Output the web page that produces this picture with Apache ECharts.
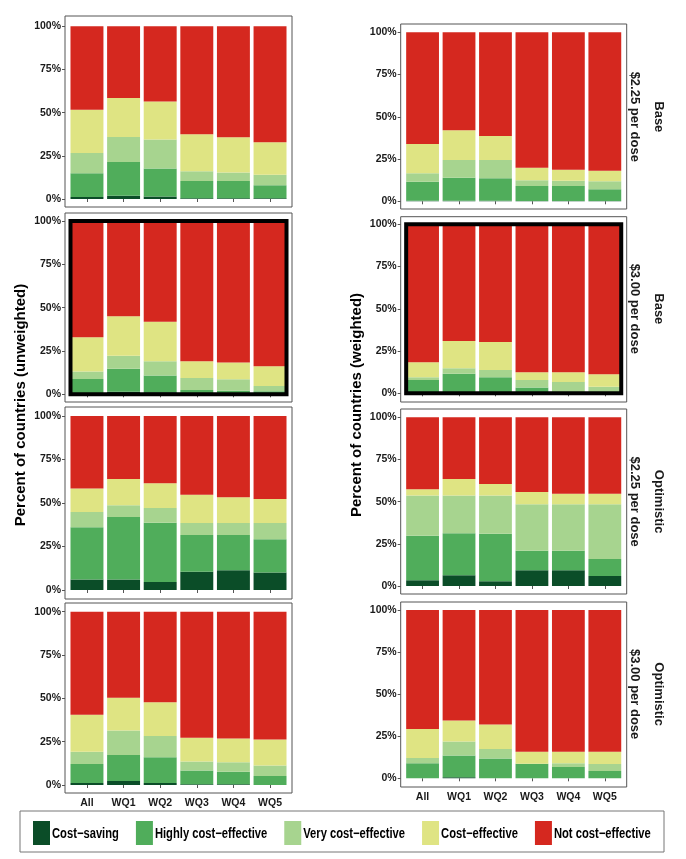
<!DOCTYPE html>
<html>
<head>
<meta charset="utf-8">
<script src="https://cdn.jsdelivr.net/npm/echarts@6/dist/echarts.min.js"></script>
<style>
  html, body { margin: 0; padding: 0; background: #fff; }
  #main { width: 686px; height: 859px; }
</style>
</head>
<body>
<div id="main"></div>
<script>
// categories and stacked segments
var categories = ['All', 'WQ1', 'WQ2', 'WQ3', 'WQ4', 'WQ5'];
var segments = ['Cost\u2212saving', 'Highly cost\u2212effective', 'Very cost\u2212effective', 'Cost\u2212effective', 'Not cost\u2212effective'];
var segColors = ['#0b4d28', '#50ad5b', '#a7d48f', '#dfe483', '#d5281f'];

// one row per segment (cost-saving .. not cost-effective), one value per category, in percent
var base225Unweighted = [
  [1.2, 1.9, 1.4, 0.4, 0.4, 0.4],
  [13.7, 19.5, 16.2, 10.0, 10.0, 7.5],
  [11.7, 14.5, 16.8, 5.6, 5.0, 6.2],
  [25.1, 22.6, 22.0, 21.5, 20.3, 18.7],
  [48.3, 41.5, 43.6, 62.5, 64.3, 67.2]
];
var base225Weighted = [
  [0.3, 0.3, 0.3, 0.2, 0.2, 0.2],
  [11.3, 13.7, 13.3, 8.9, 8.9, 6.9],
  [5.0, 10.5, 10.9, 3.3, 3.1, 4.7],
  [17.3, 17.5, 14.2, 7.5, 6.5, 6.3],
  [66.1, 58.0, 61.3, 80.1, 81.3, 81.9]
];
var base300Unweighted = [
  [0.5, 1.5, 1.2, 0.3, 0.3, 0.3],
  [8.3, 13.3, 9.6, 2.2, 1.8, 1.4],
  [4.3, 7.5, 8.2, 6.9, 6.6, 3.1],
  [19.8, 22.7, 22.9, 9.6, 9.6, 11.4],
  [67.1, 55.0, 58.1, 81.0, 81.7, 83.8]
];
var base300Weighted = [
  [0, 0, 0, 0, 0, 0],
  [7.9, 11.6, 9.5, 3.4, 0, 0],
  [1.6, 3.2, 4.3, 4.5, 6.7, 3.9],
  [8.8, 16.2, 16.6, 4.5, 5.7, 7.3],
  [81.7, 69.0, 69.6, 87.6, 87.6, 88.8]
];
var opt225Unweighted = [
  [6.1, 6.1, 4.6, 10.5, 11.3, 10.0],
  [29.9, 35.9, 34.1, 21.1, 20.3, 19.1],
  [8.8, 6.7, 8.4, 6.9, 6.9, 9.4],
  [13.6, 15.1, 14.2, 16.3, 14.8, 13.8],
  [41.6, 36.2, 38.7, 45.2, 46.7, 47.7]
];
var opt225Weighted = [
  [3.4, 6.3, 2.8, 9.3, 9.3, 5.9],
  [26.4, 24.9, 28.2, 11.6, 11.6, 10.1],
  [23.8, 22.4, 22.6, 27.5, 27.5, 32.4],
  [3.7, 9.8, 6.9, 7.3, 6.3, 6.3],
  [42.7, 36.6, 39.5, 44.3, 45.3, 45.3]
];
var opt300Unweighted = [
  [1.2, 2.3, 1.2, 0.4, 0.4, 0],
  [10.9, 15.0, 14.8, 7.9, 7.3, 5.2],
  [7.1, 14.2, 12.3, 5.2, 5.4, 6.1],
  [21.4, 18.9, 19.4, 13.8, 13.8, 15.0],
  [59.4, 49.6, 52.3, 72.7, 73.1, 73.7]
];
var opt300Weighted = [
  [0, 0.6, 0, 0, 0, 0],
  [8.9, 12.9, 11.7, 8.7, 6.7, 4.4],
  [3.2, 8.3, 5.7, 0, 2.2, 4.1],
  [17.2, 12.5, 14.5, 7.1, 6.9, 7.3],
  [70.7, 65.7, 68.1, 84.2, 84.2, 84.2]
];

var scenarios = ['Base', 'Base', 'Optimistic', 'Optimistic'];
var prices = ['$2.25 per dose', '$3.00 per dose', '$2.25 per dose', '$3.00 per dose'];

// panel layout: [column, row, data]
var panels = [
  [0, 0, base225Unweighted], [1, 0, base225Weighted],
  [0, 1, base300Unweighted], [1, 1, base300Weighted],
  [0, 2, opt225Unweighted],  [1, 2, opt225Weighted],
  [0, 3, opt300Unweighted],  [1, 3, opt300Weighted]
];

// pixel boxes of each ggplot panel: [panelTop, panelBottom, y100, y0]
var colX = [[65, 292], [400.7, 626.7]];
var rowY = [
  [[16, 207, 26.3, 199], [213, 402, 221, 394.3], [407, 599, 416, 590], [603, 793, 611.7, 785]],
  [[24, 209, 32.3, 201.3], [216.7, 402, 224.3, 393.3], [409, 594, 417.3, 586], [602, 787, 610, 778.3]]
];

var FONT = 'Liberation Sans, Arial, sans-serif';
var chart = echarts.init(document.getElementById('main'));

var grids = [], xAxes = [], yAxes = [], series = [], graphics = [];

panels.forEach(function (p, i) {
  var col = p[0], row = p[1], data = p[2];
  var pl = colX[col][0], pr = colX[col][1];
  var py = rowY[col][row];
  var unit = (pr - pl) / 6.2;
  var gl = pl + 0.1 * unit, gw = 6 * unit;
  var gt = py[2], gh = py[3] - py[2];

  grids.push({ left: gl, top: gt, width: gw, height: gh });

  xAxes.push({
    type: 'category', gridIndex: i, data: categories,
    offset: py[1] - py[3],
    axisLine: { show: false },
    axisTick: { show: true, alignWithLabel: true, length: 3, lineStyle: { color: '#555' } },
    axisLabel: { show: row === 3, margin: 5, color: '#1a1a1a', fontWeight: 'bold', fontSize: 10.5, fontFamily: FONT },
    splitLine: { show: false }
  });
  yAxes.push({
    type: 'value', gridIndex: i, min: 0, max: 100, interval: 25,
    offset: gl - pl,
    axisLine: { show: false },
    axisTick: { show: true, length: 3, lineStyle: { color: '#555' } },
    axisLabel: { margin: 4, color: '#1a1a1a', fontWeight: 'bold', fontSize: 10.5, fontFamily: FONT, formatter: '{value}%' },
    splitLine: { show: false }
  });

  segments.forEach(function (name, s) {
    series.push({
      name: name, type: 'bar', stack: 'p' + i,
      xAxisIndex: i, yAxisIndex: i,
      barCategoryGap: '10%',
      itemStyle: { color: segColors[s] },
      emphasis: { disabled: true },
      data: data[s]
    });
  });

  // panel frame
  graphics.push({
    type: 'rect', z: 100, silent: true,
    shape: { x: pl, y: py[0], width: pr - pl, height: py[1] - py[0] },
    style: { fill: 'none', stroke: '#555', lineWidth: 1 }
  });
  // highlighted row (Base, $3.00)
  if (row === 1) {
    graphics.push({
      type: 'rect', z: 101, silent: true,
      shape: { x: gl + 0.05 * unit, y: gt, width: gw - 0.1 * unit, height: gh },
      style: { fill: 'none', stroke: '#000', lineWidth: 4 }
    });
  }
  // strip labels on the right column
  if (col === 1) {
    var cy = gt + gh / 2;
    graphics.push({
      type: 'text', x: 635, y: cy, rotation: -Math.PI / 2,
      style: { text: prices[row], fill: '#1a1a1a', font: 'bold 13px ' + FONT, textAlign: 'center', textVerticalAlign: 'middle' }
    });
    graphics.push({
      type: 'text', x: 659, y: cy, rotation: -Math.PI / 2,
      style: { text: scenarios[row], fill: '#1a1a1a', font: 'bold 13px ' + FONT, textAlign: 'center', textVerticalAlign: 'middle' }
    });
  }
});

// axis titles
graphics.push({
  type: 'text', x: 21, y: 405, rotation: Math.PI / 2,
  style: { text: 'Percent of countries (unweighted)', fill: '#000', font: 'bold 15px ' + FONT, textAlign: 'center', textVerticalAlign: 'middle' }
});
graphics.push({
  type: 'text', x: 357, y: 405, rotation: Math.PI / 2,
  style: { text: 'Percent of countries (weighted)', fill: '#000', font: 'bold 15px ' + FONT, textAlign: 'center', textVerticalAlign: 'middle' }
});

// legend: frame + keys, condensed bold text (no narrow font installed, so squeeze it)
graphics.push({
  type: 'rect', silent: true,
  shape: { x: 20, y: 811, width: 644, height: 41 },
  style: { fill: 'none', stroke: '#777', lineWidth: 1 }
});
var legFont = 'bold 14px ' + FONT;
var squeeze = 0.8;
var ctx = document.createElement('canvas').getContext('2d');
ctx.font = legFont;
var lx = 33;
segments.forEach(function (name, s) {
  graphics.push({
    type: 'rect', silent: true,
    shape: { x: lx, y: 821, width: 17, height: 24 },
    style: { fill: segColors[s] }
  });
  graphics.push({
    type: 'text', silent: true, x: lx + 19, y: 834, scaleX: squeeze,
    style: { text: name, fill: '#000', font: legFont, textAlign: 'left', textVerticalAlign: 'middle' }
  });
  lx += 19 + ctx.measureText(name).width * squeeze + 17;
});

var option = {
  backgroundColor: '#fff',
  animation: false,
  grid: grids,
  xAxis: xAxes,
  yAxis: yAxes,
  graphic: graphics,
  series: series
};
chart.setOption(option);
</script>
</body>
</html>
